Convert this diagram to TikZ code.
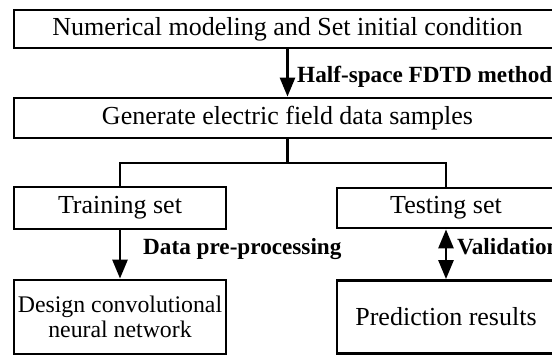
\documentclass[tikz,border=0pt]{standalone}
\usepackage{fontspec}
\setmainfont{Liberation Serif}
\usetikzlibrary{arrows.meta}
\begin{document}
\begin{tikzpicture}[x=1pt,y=1pt,
  box/.style={draw, line width=2.8pt, inner sep=0pt, align=center, font=\fontsize{26}{28}\selectfont},
  conn/.style={line width=2.7pt},
  arr/.style={conn, -{Triangle[length=19pt,width=15pt]}},
  darr/.style={conn, {Triangle[length=19pt,width=15pt]}-{Triangle[length=19pt,width=15pt]}},
  lab/.style={font=\fontsize{23.2}{25}\selectfont\bfseries, inner sep=0pt, anchor=base west}]
\useasboundingbox (0,0) rectangle (552,356);
\clip (0,0) rectangle (552,356);
\fill[white] (0,0) rectangle (552,356);
\node[box, minimum width=547pt, minimum height=38pt] (num) at (287.5,327) {Numerical modeling and Set initial condition};
\node[box, minimum width=547pt, minimum height=40pt] (gen) at (287.5,238) {Generate electric field data samples};
\node[box, minimum width=212pt, minimum height=42pt] (train) at (120,148) {Training set};
\node[box, minimum width=218pt, minimum height=40pt] (test) at (446,148) {Testing set};
\node[box, minimum width=212pt, minimum height=74pt, font=\fontsize{23.8}{25}\selectfont] (design) at (120,39) {Design convolutional\\neural network};
\node[box, minimum width=218pt, minimum height=73pt] (pred) at (446,39) {Prediction results};
\coordinate (jl) at (120,193);
\coordinate (jr) at (446,193);
\draw[arr] (num) -- (gen);
\draw[conn] (gen.south) -- (gen.south |- jl);
\draw[conn] (train.north) -- (jl) -- (jr) -- (test.north);
\draw[arr] (train) -- (design);
\draw[darr] (test) -- (pred);
\node[lab] (hs) at (297,273) {Half-space FDTD method};
\node[lab] (dp) at (143,101) {Data pre-processing};
\node[lab] (val) at (457,101) {Validation};
\end{tikzpicture}
\end{document}
